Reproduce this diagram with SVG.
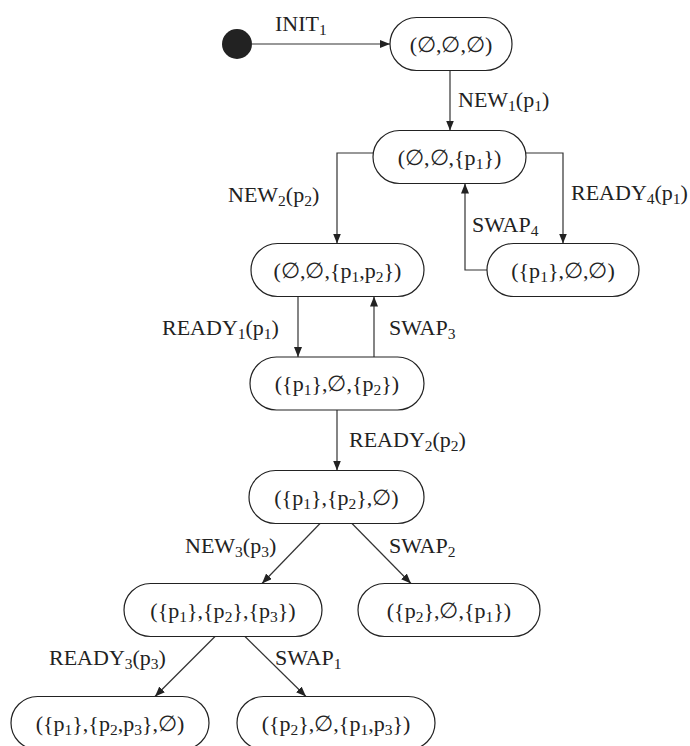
<svg xmlns="http://www.w3.org/2000/svg" width="690" height="746" viewBox="0 0 690 746">
<style>
  text { font-family: "Liberation Serif", "Times New Roman", serif; font-size: 22px; fill: #222; }
  .c { text-anchor: middle; }
  .s { font-size: 15.5px; }
  .node rect { fill: #fff; stroke: #222; stroke-width: 1.2; }
  .conn { fill: none; stroke: #333; stroke-width: 1.2; }
</style>
<defs>
  <marker id="arr" markerUnits="userSpaceOnUse" markerWidth="10" markerHeight="8" refX="10" refY="4" orient="auto">
    <path d="M0,0 L10,4 L0,8 z" fill="#222"/>
  </marker>
</defs>
<rect width="690" height="746" fill="#fff"/>

<g id="connectors" class="conn" marker-end="url(#arr)">
  <line x1="252" y1="44" x2="390" y2="44"/>
  <line x1="450" y1="70.5" x2="450" y2="130.5"/>
  <polyline points="373,153 337,153 337,243.5"/>
  <polyline points="526,153 563,153 563,243.5"/>
  <polyline points="487,270 465,270 465,183.5"/>
  <line x1="298" y1="296.5" x2="298" y2="357"/>
  <line x1="374" y1="357" x2="374" y2="296.5"/>
  <line x1="337" y1="410" x2="337" y2="470.5"/>
  <line x1="320" y1="523.5" x2="262" y2="583.5"/>
  <line x1="352" y1="523.5" x2="411" y2="583.5"/>
  <line x1="215" y1="636.5" x2="155" y2="696.5"/>
  <line x1="245" y1="636.5" x2="306" y2="696.5"/>
</g>

<g id="labels">
  <text x="275" y="31">INIT<tspan class="s" dy="4">1</tspan></text>
  <text x="458" y="107">NEW<tspan class="s" dy="4">1</tspan><tspan dy="-4">(p</tspan><tspan class="s" dy="4">1</tspan><tspan dy="-4">)</tspan></text>
  <text x="228" y="202">NEW<tspan class="s" dy="4">2</tspan><tspan dy="-4">(p</tspan><tspan class="s" dy="4">2</tspan><tspan dy="-4">)</tspan></text>
  <text x="571" y="200">READY<tspan class="s" dy="4">4</tspan><tspan dy="-4">(p</tspan><tspan class="s" dy="4">1</tspan><tspan dy="-4">)</tspan></text>
  <text x="472" y="232">SWAP<tspan class="s" dy="4">4</tspan></text>
  <text x="162" y="335">READY<tspan class="s" dy="4">1</tspan><tspan dy="-4">(p</tspan><tspan class="s" dy="4">1</tspan><tspan dy="-4">)</tspan></text>
  <text x="389" y="335">SWAP<tspan class="s" dy="4">3</tspan></text>
  <text x="349" y="447">READY<tspan class="s" dy="4">2</tspan><tspan dy="-4">(p</tspan><tspan class="s" dy="4">2</tspan><tspan dy="-4">)</tspan></text>
  <text x="185" y="553">NEW<tspan class="s" dy="4">3</tspan><tspan dy="-4">(p</tspan><tspan class="s" dy="4">3</tspan><tspan dy="-4">)</tspan></text>
  <text x="389" y="553">SWAP<tspan class="s" dy="4">2</tspan></text>
  <text x="49" y="665">READY<tspan class="s" dy="4">3</tspan><tspan dy="-4">(p</tspan><tspan class="s" dy="4">3</tspan><tspan dy="-4">)</tspan></text>
  <text x="275" y="665">SWAP<tspan class="s" dy="4">1</tspan></text>
</g>

<g id="start"><circle cx="237" cy="44" r="15" fill="#222"/></g>

<g id="n1" class="node">
  <rect x="390" y="17.5" width="122" height="53" rx="26.5"/>
  <text class="c" x="451" y="51.5">(∅,∅,∅)</text>
</g>
<g id="n2" class="node">
  <rect x="373" y="130.5" width="153" height="53" rx="26.5"/>
  <text class="c" x="449.5" y="164.5">(∅,∅,{p<tspan class="s" dy="4">1</tspan><tspan dy="-4">})</tspan></text>
</g>
<g id="n3" class="node">
  <rect x="251" y="243.5" width="173" height="53" rx="26.5"/>
  <text class="c" x="337.5" y="277.5">(∅,∅,{p<tspan class="s" dy="4">1</tspan><tspan dy="-4">,p</tspan><tspan class="s" dy="4">2</tspan><tspan dy="-4">})</tspan></text>
</g>
<g id="n4" class="node">
  <rect x="487" y="243.5" width="152" height="53" rx="26.5"/>
  <text class="c" x="563" y="277.5">({p<tspan class="s" dy="4">1</tspan><tspan dy="-4">},∅,∅)</tspan></text>
</g>
<g id="n5" class="node">
  <rect x="250" y="357" width="174" height="53" rx="26.5"/>
  <text class="c" x="337" y="391">({p<tspan class="s" dy="4">1</tspan><tspan dy="-4">},∅,{p</tspan><tspan class="s" dy="4">2</tspan><tspan dy="-4">})</tspan></text>
</g>
<g id="n6" class="node">
  <rect x="249" y="470.5" width="175" height="53" rx="26.5"/>
  <text class="c" x="336.5" y="504.5">({p<tspan class="s" dy="4">1</tspan><tspan dy="-4">},{p</tspan><tspan class="s" dy="4">2</tspan><tspan dy="-4">},∅)</tspan></text>
</g>
<g id="n7" class="node">
  <rect x="124" y="583.5" width="198" height="53" rx="26.5"/>
  <text class="c" x="223" y="617.5">({p<tspan class="s" dy="4">1</tspan><tspan dy="-4">},{p</tspan><tspan class="s" dy="4">2</tspan><tspan dy="-4">},{p</tspan><tspan class="s" dy="4">3</tspan><tspan dy="-4">})</tspan></text>
</g>
<g id="n8" class="node">
  <rect x="358" y="583.5" width="182" height="53" rx="26.5"/>
  <text class="c" x="449" y="617.5">({p<tspan class="s" dy="4">2</tspan><tspan dy="-4">},∅,{p</tspan><tspan class="s" dy="4">1</tspan><tspan dy="-4">})</tspan></text>
</g>
<g id="n9" class="node">
  <rect x="11" y="696.5" width="198" height="53" rx="26.5"/>
  <text class="c" x="110" y="730.5">({p<tspan class="s" dy="4">1</tspan><tspan dy="-4">},{p</tspan><tspan class="s" dy="4">2</tspan><tspan dy="-4">,p</tspan><tspan class="s" dy="4">3</tspan><tspan dy="-4">},∅)</tspan></text>
</g>
<g id="n10" class="node">
  <rect x="237" y="696.5" width="198" height="53" rx="26.5"/>
  <text class="c" x="336" y="730.5">({p<tspan class="s" dy="4">2</tspan><tspan dy="-4">},∅,{p</tspan><tspan class="s" dy="4">1</tspan><tspan dy="-4">,p</tspan><tspan class="s" dy="4">3</tspan><tspan dy="-4">})</tspan></text>
</g>
</svg>
